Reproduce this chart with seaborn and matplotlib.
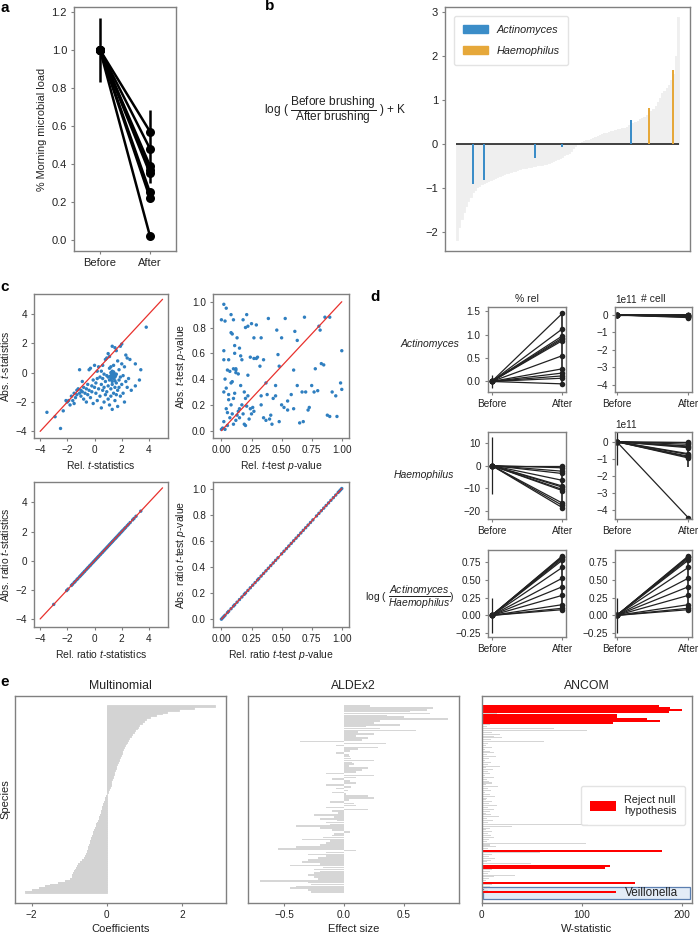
import numpy as np
import pandas as pd
import matplotlib
matplotlib.use("Agg")
import matplotlib.pyplot as plt
import seaborn as sns
from matplotlib.patches import Patch, Rectangle

# ---------------- data ----------------
# panel a
a_after = [0.57, 0.48, 0.39, 0.37, 0.35, 0.25, 0.22, 0.02]
a_before = [1.0] * 8
a_err_before = (0.83, 1.17)
a_err_after = (0.30, 0.685)

# panel b
b_all = [-2.2, -1.9, -1.7, -1.55, -1.42, -1.3, -1.2, -1.1, -1.04, -0.99,
         -0.95, -0.92, -0.89, -0.86, -0.84, -0.82, -0.79, -0.77, -0.75, -0.73,
         -0.71, -0.69, -0.67, -0.66, -0.64, -0.62, -0.61, -0.59, -0.58, -0.56,
         -0.55, -0.54, -0.53, -0.52, -0.51, -0.50, -0.49, -0.48, -0.47, -0.46,
         -0.45, -0.43, -0.41, -0.39, -0.36, -0.34, -0.31, -0.29, -0.26, -0.23,
         -0.2, -0.15, -0.1, -0.05, -0.01, 0.02, 0.04, 0.06, 0.08, 0.10,
         0.12, 0.14, 0.16, 0.18, 0.20, 0.22, 0.24, 0.26, 0.28, 0.29,
         0.30, 0.31, 0.33, 0.34, 0.36, 0.37, 0.39, 0.42, 0.45, 0.48,
         0.50, 0.53, 0.56, 0.59, 0.62, 0.65, 0.70, 0.75, 0.80, 0.87,
         0.95, 1.05, 1.15, 1.2, 1.28, 1.35, 1.45, 1.6, 2.0, 2.9]
b_act_pos = [7, 12, 35, 47, 78]
b_act_val = [-0.92, -0.82, -0.33, -0.08, 0.55]
b_hae_pos = [86, 97]
b_hae_val = [0.82, 1.68]

# panel c
c_rel_t = [3.8, -3.5, -2.9, -2.5, -2.3, -2.1, -2.0, -1.9, -1.8, -1.7,
           -1.6, -1.5, -1.5, -1.4, -1.3, -1.3, -1.2, -1.1, -1.1, -1.0,
           -1.0, -0.9, -0.8, -0.8, -0.7, -0.6, -0.6, -0.5, -0.5, -0.4,
           -0.4, -0.3, -0.3, -0.2, -0.2, -0.1, -0.1, 0.0, 0.0, 0.1,
           0.1, 0.2, 0.2, 0.3, 0.3, 0.4, 0.4, 0.5, 0.5, 0.6,
           0.6, 0.6, 0.7, 0.7, 0.8, 0.8, 0.8, 0.9, 0.9, 0.9,
           1.0, 1.0, 1.0, 1.1, 1.1, 1.1, 1.2, 1.2, 1.2, 1.3,
           1.3, 1.3, 1.3, 1.4, 1.4, 1.4, 1.4, 1.5, 1.5, 1.5,
           1.6, 1.6, 1.6, 1.7, 1.7, 1.7, 1.8, 1.8, 1.8, 1.9,
           1.9, 2.0, 2.0, 2.0, 2.1, 2.1, 2.2, 2.2, 2.3, 2.3,
           2.4, 2.4, 2.5, 2.7, 3.0, 3.0, 3.3, 3.4, 1.2, 1.5,
           0.5, 1.9, 1.3, 0.7, 1.6, 1.0, 0.2, -0.9, 2.6, 1.1,
           1.25, 1.35, 1.45, 1.2, 1.55, 1.3, 1.4, 1.15, 1.5, 1.35]
c_abs_t = [3.1, -2.7, -3.0, -3.8, -2.6, -1.9, -2.0, -1.9, -2.2, -1.6,
           -1.9, -1.4, -2.1, -1.7, -1.2, -1.5, -1.1, -1.4, 0.2, -1.2,
           -1.6, -1.3, -1.0, -1.8, -1.4, -1.1, -2.0, -1.5, -0.8, 0.2,
           -1.2, 0.3, -1.7, -0.9, -1.3, -0.5, -2.1, 0.5, -1.0, -1.4,
           -0.7, 0.1, -1.9, 0.4, -1.1, -0.3, -1.6, -0.8, -2.4, 0.5,
           -1.2, -0.4, -1.0, -2.0, 0.9, -0.6, -1.5, 1.0, -0.2, -1.3,
           1.3, -0.9, -1.8, 0.3, -0.5, -2.2, 0.0, -1.1, -1.6, 1.8,
           -0.3, -0.8, -2.5, -0.2, -0.4, -1.4, 0.5, 1.7, -0.3, -1.9,
           1.5, -0.1, -0.7, 0.8, -1.2, -2.3, 0.2, -0.5, -1.0, 1.8,
           -1.6, 1.95, 0.6, -0.8, -0.2, -1.4, 0.4, -2.0, 1.2, -0.6,
           1.0, -1.0, -0.4, -1.2, 0.6, -0.9, -0.5, 0.2, 0.4, -1.0,
           0.1, -0.3, 0.1, -0.1, -1.5, -0.3, -0.4, -0.6, 0.9, 1.1,
           -0.15, -0.35, -0.05, -0.45, -0.2, -0.6, 0.05, -0.25, -0.55, -0.1]
c_rel_p = [0.02, 0.04, 0.0, 0.03, 0.02, 0.08, 0.09, 0.13, 0.06, 0.11,
           0.17, 0.15, 0.2, 0.22, 0.18, 0.25, 0.21, 0.08, 0.1, 0.05,
           0.07, 0.1, 0.12, 0.12, 0.09, 0.03, 0.04, 0.02, 0.06, 0.1,
           0.08, 0.04, 0.05, 0.07, 0.02, 0.01, 0.03, 0.05, 0.0, 0.1,
           0.12, 0.13, 0.14, 0.15, 0.17, 0.2, 0.22, 0.24, 0.26, 0.27,
           0.25, 0.23, 0.2, 0.19, 0.15, 0.16, 0.19, 0.22, 0.24, 0.27,
           0.3, 0.29, 0.33, 0.35, 0.32, 0.37, 0.38, 0.33, 0.35, 0.37,
           0.41, 0.43, 0.45, 0.47, 0.46, 0.48, 0.5, 0.52, 0.55, 0.5,
           0.48, 0.6, 0.58, 0.61, 0.63, 0.63, 0.6, 0.65, 0.67, 0.68,
           0.69, 0.7, 0.72, 0.75, 0.77, 0.78, 0.8, 0.81, 0.82, 0.85,
           0.83, 0.86, 0.88, 0.9, 0.9, 0.92, 0.95, 0.96, 0.99, 1.0,
           1.0, 0.55, 0.45, 0.73, 0.4, 0.12, 0.08, 0.16, 0.21, 0.06,
           0.11, 0.18, 0.09, 0.11, 0.14, 0.02, 0.29, 0.39, 0.27, 0.53, 0.42, 0.33]
c_abs_p = [0.98, 0.95, 0.86, 0.85, 0.62, 0.76, 0.75, 0.72, 0.55, 0.6,
           0.55, 0.64, 0.8, 0.81, 0.86, 0.83, 0.9, 0.9, 0.86, 0.47,
           0.46, 0.48, 0.47, 0.45, 0.38, 0.4, 0.33, 0.3, 0.28, 0.25,
           0.2, 0.17, 0.14, 0.1, 0.07, 0.02, 0.01, 0.04, 0.01, 0.05,
           0.08, 0.12, 0.15, 0.17, 0.2, 0.25, 0.27, 0.17, 0.18, 0.15,
           0.13, 0.09, 0.04, 0.05, 0.1, 0.35, 0.3, 0.43, 0.57, 0.56,
           0.57, 0.82, 0.72, 0.55, 0.5, 0.37, 0.28, 0.2, 0.1, 0.08,
           0.12, 0.25, 0.35, 0.59, 0.78, 0.5, 0.72, 0.18, 0.16, 0.2,
           0.07, 0.17, 0.28, 0.77, 0.7, 0.35, 0.47, 0.06, 0.3, 0.07,
           0.88, 0.3, 0.16, 0.35, 0.3, 0.48, 0.31, 0.81, 0.78, 0.51,
           0.52, 0.88, 0.12, 0.11, 0.88, 0.3, 0.27, 0.11, 0.37, 0.32,
           0.62, 0.23, 0.27, 0.18, 0.09, 0.48, 0.37, 0.58, 0.19, 0.24,
           0.29, 0.13, 0.13, 0.66, 0.44, 0.55, 0.56, 0.87, 0.72, 0.87, 0.05, 0.27]
c_rel_ratio_t = [-3.0, -2.05, -1.95, -1.7, -1.62, -1.5, -1.42, -1.3, -1.22, -1.1,
                 -1.02, -0.93, -0.85, -0.76, -0.7, -0.6, -0.52, -0.45, -0.36, -0.3,
                 -0.21, -0.12, -0.05, 0.03, 0.1, 0.18, 0.25, 0.31, 0.4, 0.46,
                 0.55, 0.6, 0.68, 0.75, 0.83, 0.9, 0.97, 1.05, 1.12, 1.2,
                 1.27, 1.33, 1.41, 1.5, 1.56, 1.63, 1.72, 1.8, 1.86, 1.95,
                 2.02, 2.1, 2.2, 2.28, 2.4, 2.5, 2.62, 2.8, 2.9, 3.05, 3.4]
c_abs_ratio_t = list(c_rel_ratio_t)
c_rel_ratio_p = [0.0, 0.01, 0.02, 0.03, 0.05, 0.06, 0.08, 0.1, 0.11, 0.13,
                 0.15, 0.17, 0.19, 0.2, 0.22, 0.24, 0.26, 0.28, 0.3, 0.31,
                 0.33, 0.35, 0.37, 0.39, 0.41, 0.43, 0.45, 0.47, 0.5, 0.52,
                 0.54, 0.56, 0.58, 0.6, 0.62, 0.64, 0.66, 0.68, 0.7, 0.72,
                 0.74, 0.76, 0.79, 0.81, 0.83, 0.85, 0.87, 0.89, 0.91, 0.93,
                 0.95, 0.97, 0.98, 0.99, 1.0]
c_abs_ratio_p = list(c_rel_ratio_p)

# panel d (after values; before = 0)
d_act_rel = [1.45, 1.12, 0.97, 0.93, 0.90, 0.87, 0.55, 0.27, 0.18, 0.12, 0.07, -0.05]
d_act_cell = [0.0, -0.02, -0.05, -0.08, -0.1, -0.12, -0.15, -0.03, -0.06, 0.02, -0.04, -0.09]  # x1e11
d_hae_rel = [0.0, -1.0, -2.5, -3.5, -6.5, -9.0, -9.5, -10.5, -11.0, -16.5, -17.5, -18.5]
d_hae_cell = [0.0, -0.05, -0.15, -0.25, -0.3, -0.35, -0.7, -0.75, -0.85, -0.9, -0.95, -4.45]  # x1e11
d_ratio = [0.83, 0.82, 0.81, 0.79, 0.77, 0.67, 0.52, 0.40, 0.28, 0.15, 0.08, 0.10]
d_before_err = [0.14, 0.05, 12.5, 1.35, 0.25, 0.25]
d_after_err = [(-0.05, 1.45), (-0.15, 0.02), (-19.0, 0.0), (-1.45, 0.0), (0.05, 0.86), (0.05, 0.86)]

# panel e
e_multinomial = [2.86, 2.3, 1.9, 1.6, 1.45, 1.3, 1.15, 1.05, 0.98, 0.92,
                 0.86, 0.82, 0.79, 0.75, 0.71, 0.67, 0.63, 0.59, 0.56, 0.53,
                 0.5, 0.47, 0.45, 0.43, 0.41, 0.39, 0.37, 0.35, 0.33, 0.31,
                 0.29, 0.27, 0.25, 0.23, 0.21, 0.20, 0.18, 0.17, 0.15, 0.14,
                 0.12, 0.11, 0.10, 0.08, 0.06, 0.04, 0.02, 0.0, -0.02, -0.04,
                 -0.06, -0.08, -0.10, -0.11, -0.13, -0.14, -0.16, -0.17, -0.19, -0.21,
                 -0.22, -0.24, -0.26, -0.28, -0.30, -0.32, -0.34, -0.36, -0.38, -0.40,
                 -0.41, -0.43, -0.44, -0.46, -0.48, -0.49, -0.51, -0.52, -0.54, -0.55,
                 -0.58, -0.62, -0.66, -0.71, -0.76, -0.80, -0.83, -0.86, -0.88, -0.90,
                 -0.92, -0.94, -0.98, -1.1, -1.3, -1.5, -1.65, -1.8, -2.0, -2.17]
e_aldex = [0.22, 0.74, 0.69, 0.55, 0.72, 0.36, 0.5, 0.87, 0.3, 0.25,
           0.47, 0.18, 0.3, 0.6, 0.12, 0.25, 0.1, 0.2, 0.15, -0.37,
           0.35, -0.07, 0.28, 0.12, 0.05, -0.07, 0.04, 0.05, 0.06, 0.25,
           0.07, 0.08, 0.04, 0.2, 0.15, 0.1, -0.15, 0.25, 0.1, -0.1,
           0.05, 0.1, -0.15, 0.06, -0.07, 0.03, -0.1, 0.02, 0.2, 0.25,
           0.04, -0.12, 0.08, 0.1, -0.15, 0.2, -0.1, -0.05, -0.25, -0.08,
           -0.2, -0.06, -0.15, -0.12, -0.4, -0.2, -0.1, 0.05, -0.08, -0.1,
           -0.18, -0.35, -0.12, -0.15, -0.2, -0.4, -0.55, 0.1, -0.15, -0.3,
           -0.15, -0.22, -0.3, -0.35, -0.2, -0.45, -0.18, -0.25, -0.2, -0.25,
           -0.3, -0.25, -0.22, -0.7, -0.3, -0.28, -0.4, -0.45, -0.3, -0.28]
e_ancom = [177, 188, 200, 187, 15, 135, 135, 165, 178, 131,
           8, 5, 72, 105, 10, 18, 12, 20, 9, 62,
           6, 4, 10, 3, 8, 12, 5, 14, 7, 3,
           9, 6, 18, 4, 11, 6, 8, 3, 12, 5,
           7, 10, 4, 16, 6, 9, 3, 8, 13, 5,
           4, 10, 7, 15, 6, 12, 8, 4, 9, 17,
           5, 11, 6, 106, 30, 8, 4, 10, 6, 9,
           12, 7, 5, 104, 8, 14, 6, 180, 58, 10,
           7, 13, 9, 5, 49, 128, 123, 10, 8, 6,
           33, 12, 7, 4, 153, 10, 8, 5, 6, 134]
e_ancom_reject = [0, 1, 2, 3, 5, 6, 7, 8, 9, 77, 85, 86, 94, 99]
species = ["sp%d" % i for i in range(len(e_multinomial))]

# ---------------- style ----------------
sns.set_theme(style="ticks")
plt.rcParams["font.family"] = ["Liberation Sans", "DejaVu Sans"]
plt.rcParams.update({
    "mathtext.fontset": "custom",
    "mathtext.rm": "Liberation Sans",
    "mathtext.it": "Liberation Sans:italic",
    "mathtext.bf": "Liberation Sans:bold",
    "axes.edgecolor": "#808080",
    "axes.linewidth": 1.0,
    "xtick.color": "#808080", "ytick.color": "#808080",
    "xtick.labelcolor": "#222222", "ytick.labelcolor": "#222222",
    "xtick.major.size": 2.5, "ytick.major.size": 2.5,
    "xtick.major.width": 0.8, "ytick.major.width": 0.8,
    "xtick.major.pad": 2.5, "ytick.major.pad": 2.5,
    "font.size": 7.5, "axes.labelsize": 7.5,
    "xtick.labelsize": 7.2, "ytick.labelsize": 7.2,
    "axes.labelcolor": "#222222", "text.color": "#222222",
    "axes.labelpad": 3,
})

W, H = 699, 938
fig = plt.figure(figsize=(W / 100, H / 100), dpi=100)


def ax_at(x0, y0, x1, y1):
    return fig.add_axes([x0 / W, 1 - y1 / H, (x1 - x0) / W, (y1 - y0) / H])


def paired(ax, before, after, lw, ms, color="black"):
    n = len(after)
    df = pd.DataFrame({"t": [0] * n + [1] * n,
                       "v": list(before) + list(after),
                       "id": list(range(n)) * 2})
    sns.lineplot(data=df, x="t", y="v", units="id", estimator=None, color=color,
                 lw=lw, marker="o", ms=ms, mec=color, mew=0, ax=ax, legend=False)
    ax.set_xlabel("")
    ax.set_ylabel("")


# ---------------- panel a ----------------
ax = ax_at(74, 7, 176, 251)
paired(ax, a_before, a_after, lw=1.8, ms=6.5)
ax.vlines([0], a_err_before[0], a_err_before[1], color="black", lw=1.8)
ax.vlines([1], a_err_after[0], a_err_after[1], color="black", lw=1.8)
ax.set_xlim(-0.52, 1.52)
ax.set_ylim(-0.058, 1.226)
ax.set_xticks([0, 1])
ax.set_xticklabels(["Before", "After"], fontsize=8)
ax.set_yticks([0, 0.2, 0.4, 0.6, 0.8, 1.0, 1.2])
ax.tick_params(labelsize=8)
ax.set_ylabel("% Morning microbial load", fontsize=7.8)

# ---------------- panel b ----------------
ax = ax_at(445, 7, 690, 251)
grey_b = "#efefef"
b_idx = list(range(len(b_all)))
sns.barplot(x=b_idx, y=b_all, native_scale=True, color=grey_b,
            saturation=1, width=1.0, errorbar=None, linewidth=0.6, edgecolor=grey_b, ax=ax)
ax.fill_between(b_idx, b_all, 0, step="mid", color=grey_b, lw=0, zorder=0.9)
ax.hlines(0, -0.5, len(b_all) - 0.5, color="#222222", lw=1.2, zorder=3)
c_blue, c_orange = "#3b8dc8", "#e6a83a"
ax.bar(b_act_pos, b_act_val, width=0.9, color=c_blue, lw=0, zorder=4)
ax.bar(b_hae_pos, b_hae_val, width=0.9, color=c_orange, lw=0, zorder=4)
ax.set_xlim(-5.4, 104.4)
ax.set_ylim(-2.44, 3.12)
ax.set_xticks([])
ax.set_yticks([-2, -1, 0, 1, 2, 3])
ax.tick_params(labelsize=8)
ax.legend(handles=[Patch(color=c_blue, label="Actinomyces"),
                   Patch(color=c_orange, label="Haemophilus")],
          loc="upper left", bbox_to_anchor=(0.015, 0.985),
          prop={"style": "italic", "size": 7.8}, handlelength=2.3,
          handleheight=0.75, labelspacing=1.05, borderpad=0.8, frameon=True,
          edgecolor="#dddddd", fancybox=True)
fig.text(335 / W, 1 - 110 / H,
         r"log ( $\dfrac{\mathrm{Before\ brushing}}{\mathrm{After\ brushing}}$ ) + K",
         ha="center", va="center", fontsize=8.6)

# ---------------- panel c ----------------
blue = "#2f7fc0"
red = "#e8312d"
c_specs = [
    ((34, 294, 168, 438), c_rel_t, c_abs_t, (-4.45, 5.4), (-4.45, 5.36), [-4, 5],
     "Rel. $t$-statistics", "Abs. $t$-statistics", True),
    ((213, 294, 349, 438), c_rel_p, c_abs_p, (-0.07, 1.06), (-0.057, 1.06), [0, 1],
     "Rel. $t$-test $p$-value", "Abs. $t$-test $p$-value", False),
    ((34, 482, 168, 627), c_rel_ratio_t, c_abs_ratio_t, (-4.45, 5.4), (-4.55, 5.4), [-4, 5],
     "Rel. ratio $t$-statistics", "Abs. ratio $t$-statistics", True),
    ((213, 482, 349, 627), c_rel_ratio_p, c_abs_ratio_p, (-0.07, 1.06), (-0.06, 1.05), [0, 1],
     "Rel. ratio $t$-test $p$-value", "Abs. ratio $t$-test $p$-value", False),
]
for box, xs, ys, xl, yl, line, xlab, ylab, is_t in c_specs:
    ax = ax_at(*box)
    sns.scatterplot(x=xs, y=ys, s=6, color=blue, edgecolor="none", linewidth=0, ax=ax, zorder=2)
    ax.plot(line, line, color=red, lw=0.9, zorder=3)
    ax.set_xlim(*xl)
    ax.set_ylim(*yl)
    if is_t:
        ax.set_xticks([-4, -2, 0, 2, 4])
        ax.set_yticks([-4, -2, 0, 2, 4])
    else:
        ax.set_xticks([0, 0.25, 0.5, 0.75, 1.0])
        ax.set_xticklabels(["0.00", "0.25", "0.50", "0.75", "1.00"])
        ax.set_yticks([0, 0.2, 0.4, 0.6, 0.8, 1.0])
    ax.set_xlabel(xlab)
    ax.set_ylabel(ylab)

# ---------------- panel d ----------------
d_rows = [(307.3, 392.3), (432.3, 519), (550, 636.7)]
d_cols = [(487.7, 565.7), (615, 691.7)]
d_data = [d_act_rel, [v * 1e11 for v in d_act_cell], d_hae_rel,
          [v * 1e11 for v in d_hae_cell], d_ratio, d_ratio]
d_scale = [1, 1e11, 1, 1e11, 1, 1]
d_ylims = [(-0.23, 1.58), (-4.44, 0.44), (-23.5, 14.6), (-4.52, 0.55),
           (-0.297, 0.913), (-0.297, 0.913)]
d_yticks = [[0, 0.5, 1.0, 1.5], [-4, -3, -2, -1, 0], [-20, -10, 0, 10],
            [-4, -3, -2, -1, 0], [-0.25, 0, 0.25, 0.5, 0.75], [-0.25, 0, 0.25, 0.5, 0.75]]
d_xlims = [(-0.057, 1.048), (-0.024, 1.047)]
dcol = "#222222"
for k in range(6):
    r, c = divmod(k, 2)
    ax = ax_at(d_cols[c][0], d_rows[r][0], d_cols[c][1], d_rows[r][1])
    sc = d_scale[k]
    after = d_data[k]
    paired(ax, [0.0] * len(after), after, lw=0.9, ms=4, color=dcol)
    be = d_before_err[k] * sc
    ax.vlines([0], -be, be, color=dcol, lw=0.9)
    lo, hi = d_after_err[k]
    ax.vlines([1], lo * sc, hi * sc, color=dcol, lw=1.2)
    ax.set_xlim(*d_xlims[c])
    ax.set_ylim(d_ylims[k][0] * sc, d_ylims[k][1] * sc)
    ax.set_yticks([t * sc for t in d_yticks[k]])
    ax.set_xticks([0, 1])
    ax.set_xticklabels(["Before", "After"])
    ax.yaxis.get_offset_text().set_fontsize(7.2)
    if r == 0:
        ax.set_title("% rel" if c == 0 else "# cell", fontsize=7.5, pad=4)

fig.text(459 / W, 1 - 344 / H, "Actinomyces", ha="right", va="center",
         fontsize=7.5, style="italic")
fig.text(454 / W, 1 - 475 / H, "Haemophilus", ha="right", va="center",
         fontsize=7.5, style="italic")
fig.text(455 / W, 1 - 597 / H, r"log ( $\dfrac{Actinomyces}{Haemophilus}$)",
         ha="right", va="center", fontsize=7.5)

# ---------------- panel e ----------------
ylim_e = (104.7, -5.3)
grey_m = "#d3d3d3"
ax = ax_at(15, 696, 226, 902.7)
sns.barplot(x=e_multinomial, y=species, orient="h", color=grey_m, saturation=1,
            width=1.0, errorbar=None, linewidth=0.6, edgecolor=grey_m, ax=ax)
ax.fill_betweenx(list(range(len(e_multinomial))), 0, e_multinomial, step="mid",
                 color=grey_m, lw=0, zorder=0.9)
ax.set_ylim(*ylim_e)
ax.set_xlim(-2.44, 3.16)
ax.set_yticks([])
ax.set_xticks([-2, 0, 2])
ax.set_xlabel("Coefficients", fontsize=8)
ax.set_ylabel("Species", fontsize=8)
ax.set_title("Multinomial", fontsize=8.8, pad=5)

ax = ax_at(248.3, 696, 459, 902.7)
sns.barplot(x=e_aldex, y=species, orient="h", color="#d6d6d6", saturation=1,
            width=0.85, errorbar=None, linewidth=0, ax=ax)
ax.set_ylim(*ylim_e)
ax.set_xlim(-0.80, 0.96)
ax.set_yticks([])
ax.set_ylabel("")
ax.set_xticks([-0.5, 0, 0.5])
ax.set_xlabel("Effect size", fontsize=8)
ax.set_title("ALDEx2", fontsize=8.8, pad=5)

ax = ax_at(481.7, 696, 692.3, 902.7)
idx = list(range(len(e_ancom)))
grey_i = [i for i in idx if i not in e_ancom_reject]
ax.add_patch(Rectangle((0.8, 96.3), 207, 6.4, facecolor="#e3ecf7",
                       edgecolor="#5b7fb0", lw=0.9, zorder=0.5))
ax.barh(grey_i, [e_ancom[i] for i in grey_i], height=0.55, color="#d5d5d5", lw=0, zorder=2)
ax.barh(e_ancom_reject, [e_ancom[i] for i in e_ancom_reject], height=1.05,
        color="#ff0000", lw=0, label="Reject null\nhypothesis", zorder=2)
ax.text(170, 99.6, "Veillonella", ha="center", va="center", fontsize=8.5, zorder=5)
ax.set_ylim(*ylim_e)
ax.set_xlim(0, 210.6)
ax.set_yticks([])
ax.set_xticks([0, 100, 200])
ax.set_xlabel("W-statistic", fontsize=8)
ax.set_title("ANCOM", fontsize=8.8, pad=5)
ax.legend(loc="upper left", bbox_to_anchor=(0.445, 0.59), fontsize=7.8,
          handlelength=2.4, handleheight=1.0, frameon=True, edgecolor="#dddddd",
          borderpad=0.8)

# ---------------- panel letters ----------------
for lab, (x, y) in {"a": (5, 7.5), "b": (270, 6), "c": (5, 287),
                    "d": (375.5, 297), "e": (5, 682)}.items():
    fig.text(x / W, 1 - y / H, lab, ha="center", va="center", fontsize=11,
             fontweight="bold", color="black")

fig.savefig("out.png", dpi=100)
